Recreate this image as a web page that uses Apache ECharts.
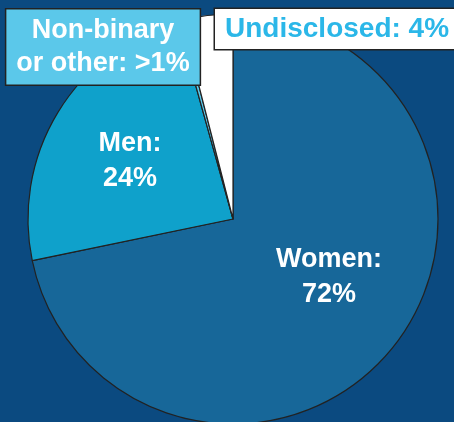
<!DOCTYPE html>
<html>
<head>
<meta charset="utf-8">
<script src="https://cdn.jsdelivr.net/npm/echarts@6/dist/echarts.min.js"></script>
<style>
  html, body { margin: 0; padding: 0; background: #0b4a80; }
  #chart { width: 454px; height: 422px; }
</style>
</head>
<body>
<div id="chart"></div>
<script>
// Gender breakdown (percent)
const categories = ['Women', 'Men', 'Non-binary or other', 'Undisclosed'];
const shares = [72, 24, 0.35, 4];
const labelTexts = ['Women:\n72%', 'Men:\n24%', 'Non-binary\nor other: >1%', 'Undisclosed: 4%'];

const sliceColors = ['#176799', '#0fa1cb', '#5bc8ea', '#ffffff'];
const FONT = '"Liberation Sans", Arial, sans-serif';

// Where each label block sits on the canvas
const labelSpots = [
  { x: 329, y: 277, align: 'center', verticalAlign: 'middle' },
  { x: 130, y: 161, align: 'center', verticalAlign: 'middle' },
  { x: 103, y: 47, align: 'center', verticalAlign: 'middle' },
  { x: 215, y: 29, align: 'left', verticalAlign: 'middle' }
];

const labelStyles = [
  { color: '#fff' },
  { color: '#fff' },
  { color: '#fff', backgroundColor: '#5bc8ea', borderColor: '#222', borderWidth: 1.5,
    padding: [5, 10, 4, 10], lineHeight: 33 },
  { color: '#2bb7e8', backgroundColor: '#fff', borderColor: '#222', borderWidth: 1.5,
    fontSize: 28, padding: [5, 20, 4, 10], lineHeight: 31 }
];

const data = categories.map((name, i) => ({
  name,
  value: shares[i],
  itemStyle: { color: sliceColors[i] },
  label: Object.assign({
    show: true,
    formatter: labelTexts[i],
    fontFamily: FONT,
    fontWeight: 'bold',
    fontSize: 27,
    lineHeight: 35,
    align: 'center'
  }, labelStyles[i])
}));

const chart = echarts.init(document.getElementById('chart'));
chart.setOption({
  backgroundColor: '#0b4a80',
  animation: false,
  series: [{
    type: 'pie',
    center: [233, 219],
    radius: [0, 205],
    startAngle: 90,
    clockwise: true,
    avoidLabelOverlap: false,
    minAngle: 0,
    itemStyle: { borderColor: '#222', borderWidth: 1.2 },
    label: { position: 'outside' },
    labelLine: { show: false },
    labelLayout: (p) => Object.assign({}, labelSpots[p.dataIndex]),
    emphasis: { disabled: true },
    data
  }]
});
</script>
</body>
</html>
